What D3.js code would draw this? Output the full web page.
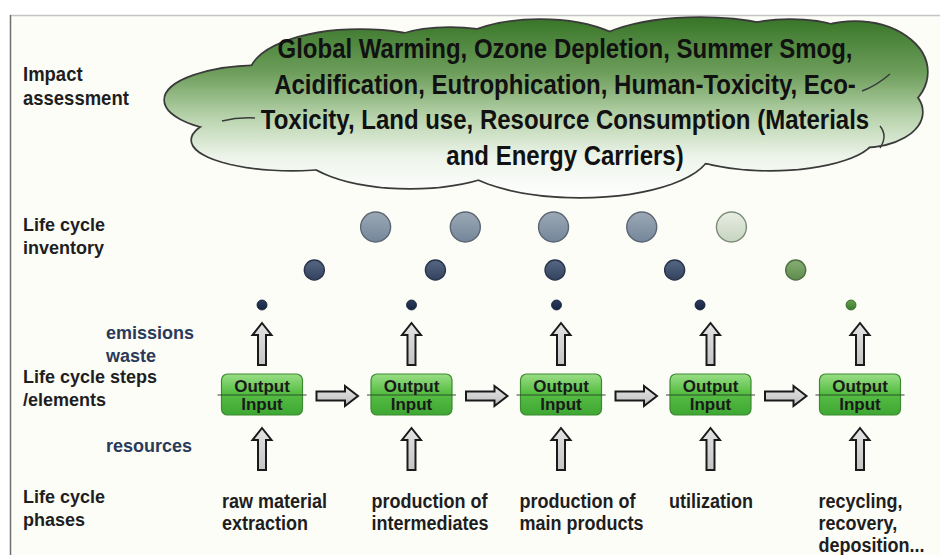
<!DOCTYPE html>
<html>
<head>
<meta charset="utf-8">
<script src="https://cdn.jsdelivr.net/npm/d3@7"></script>
<style>
  html, body { margin: 0; padding: 0; background: #fff; }
  svg { display: block; }
</style>
</head>
<body>
<svg id="chart" width="940" height="555"></svg>
<script>
'use strict';

// ---- data ----
var impactLines = [
  'Global Warming, Ozone Depletion, Summer Smog,',
  'Acidification, Eutrophication, Human-Toxicity, Eco-',
  'Toxicity, Land use, Resource Consumption (Materials',
  'and Energy Carriers)'
];
var steps = [0, 1, 2, 3, 4];
var phaseLabels = [
  ['raw material', 'extraction'],
  ['production of', 'intermediates'],
  ['production of', 'main products'],
  ['utilization'],
  ['recycling,', 'recovery,', 'deposition...']
];
// inventory bubbles, position in step units along the chain
var inventoryLarge = [0.76, 1.36, 1.95, 2.54, 3.14];
var inventoryMedium = [0.35, 1.16, 1.96, 2.76, 3.57];
var inventorySmall = [0.0, 1.0, 1.97, 2.93, 3.94];
var bubbleTone = ['slate', 'slate', 'slate', 'slate', 'green'];

// ---- layout ----
var svg = d3.select('#chart');
var x = d3.scaleLinear().domain([0, 4]).range([262, 860]);
var boxW = 81, boxH = 41, boxTop = 374;
var SANS = '"Liberation Sans", Arial, sans-serif';

var defs = svg.append('defs');

function vGrad(id, stops, userSpace) {
  var g = defs.append('linearGradient').attr('id', id)
    .attr('x1', 0).attr('x2', 0).attr('y1', userSpace ? userSpace[0] : 0)
    .attr('y2', userSpace ? userSpace[1] : 1);
  if (userSpace) { g.attr('gradientUnits', 'userSpaceOnUse'); }
  stops.forEach(function(s) {
    g.append('stop').attr('offset', s[0]).attr('stop-color', s[1]);
  });
}

// squeeze text horizontally, the source uses a narrow face we do not have
function squeeze(sel, k) {
  sel.each(function() {
    var w = this.getComputedTextLength();
    d3.select(this).attr('textLength', w * k).attr('lengthAdjust', 'spacingAndGlyphs');
  });
}

vGrad('cloudFill', [[0, '#3a772a'], [0.3, '#6e9e5c'], [0.55, '#b9d4ad'], [0.77, '#edf4ea'], [1, '#ffffff']], [20, 198]);
vGrad('boxFill', [[0, '#9ade86'], [0.45, '#58bf45'], [1, '#3ea733']]);
vGrad('arrowFill', [[0, '#e4e4e4'], [1, '#c4c4c4']]);
vGrad('arrowFillH', [[0, '#e6e6e6'], [1, '#bdbdbd']]);
vGrad('bLargeslate', [[0, '#9ca9b6'], [1, '#74869a']]);
vGrad('bLargegreen', [[0, '#e8eee4'], [1, '#c6d4c0']]);
vGrad('bMediumslate', [[0, '#566783'], [1, '#33435e']]);
vGrad('bMediumgreen', [[0, '#86ae74'], [1, '#5e8c4c']]);
vGrad('bSmallslate', [[0, '#2c3e5e'], [1, '#142340']]);
vGrad('bSmallgreen', [[0, '#64a24e'], [1, '#3c7a2e']]);

// frame
svg.append('rect').attr('x', 10).attr('y', 15).attr('width', 930).attr('height', 540)
  .attr('fill', '#fdfdf8');
svg.append('line').attr('x1', 10).attr('x2', 940).attr('y1', 15.5).attr('y2', 15.5)
  .attr('stroke', '#c4c4c4').attr('stroke-width', 1.5);
svg.append('line').attr('x1', 10.5).attr('x2', 10.5).attr('y1', 15).attr('y2', 555)
  .attr('stroke', '#6e6e6e').attr('stroke-width', 1.5);

// ---- cloud (union of lobes: stroked pass then filled pass) ----
var lobes = [
  [262, 100, 97, 34], [292, 140, 100, 30], [360, 75, 110, 45],
  [450, 52, 70, 24], [540, 64, 100, 44], [700, 60, 120, 42],
  [790, 45, 70, 25], [855, 72, 72, 50], [862, 112, 60, 35],
  [770, 135, 105, 35], [580, 150, 130, 47], [410, 146, 112, 42],
  [565, 108, 300, 62]
];
var cloud = svg.append('g').attr('class', 'cloud');
cloud.selectAll('ellipse.edge').data(lobes).enter().append('ellipse')
  .attr('class', 'edge')
  .attr('cx', function(d) { return d[0]; }).attr('cy', function(d) { return d[1]; })
  .attr('rx', function(d) { return d[2]; }).attr('ry', function(d) { return d[3]; })
  .attr('fill', 'none').attr('stroke', '#3a3a3a').attr('stroke-width', 3.4);
cloud.selectAll('ellipse.body').data(lobes).enter().append('ellipse')
  .attr('class', 'body')
  .attr('cx', function(d) { return d[0]; }).attr('cy', function(d) { return d[1]; })
  .attr('rx', function(d) { return d[2]; }).attr('ry', function(d) { return d[3]; })
  .attr('fill', 'url(#cloudFill)');
// inner lobe edges showing through
cloud.selectAll('path.seam').data([
  'M222,121 Q238,117 255,118',
  'M862,91 Q876,86 890,74',
  'M880,126 Q888,136 880,148'
]).enter().append('path')
  .attr('class', 'seam').attr('d', function(d) { return d; })
  .attr('fill', 'none').attr('stroke', '#3a3a3a').attr('stroke-width', 1.5);

var cloudText = cloud.selectAll('text').data(impactLines).enter().append('text')
  .attr('x', 565)
  .attr('y', function(d, i) { return 58 + i * 35.5; })
  .attr('text-anchor', 'middle')
  .style('font-family', SANS)
  .style('font-weight', 'bold')
  .style('font-size', '28px')
  .attr('fill', '#111')
  .text(function(d) { return d; });
var kCloud = 575 / cloudText.node().getComputedTextLength();
squeeze(cloudText, kCloud);

// ---- left row labels ----
function label(lines, lx, ly, opts) {
  var t = svg.append('text')
    .attr('x', lx).attr('y', ly)
    .style('font-family', SANS)
    .style('font-weight', 'bold')
    .style('font-size', opts.size || '18px')
    .attr('fill', opts.color || '#1e1e1e');
  lines.forEach(function(l, i) {
    t.append('tspan').attr('x', lx).attr('dy', i ? (opts.lh || 22.5) : 0).text(l);
  });
  if (opts.k) { squeeze(t.selectAll('tspan'), opts.k); }
  return t;
}
label(['Impact', 'assessment'], 23, 81, { size: '21px', lh: 24, k: 0.88 });
label(['Life cycle', 'inventory'], 23, 231, {});
label(['emissions', 'waste'], 106, 339, { color: '#2a3a58' });
label(['Life cycle steps', '/elements'], 23, 383, {});
label(['resources'], 106, 452, { color: '#2a3a58' });
label(['Life cycle', 'phases'], 23, 503, {});

// ---- inventory bubbles ----
var bubbleRows = [
  { key: 'Large', pos: inventoryLarge, cy: 227, r: 15 },
  { key: 'Medium', pos: inventoryMedium, cy: 270, r: 10 },
  { key: 'Small', pos: inventorySmall, cy: 305, r: 5 }
];
var strokeFor = {
  Largeslate: '#5c6672', Largegreen: '#7c8c78',
  Mediumslate: '#28324a', Mediumgreen: '#4c6e40',
  Smallslate: '#0e1a30', Smallgreen: '#2e5e24'
};
bubbleRows.forEach(function(row) {
  svg.append('g').selectAll('circle').data(row.pos).enter().append('circle')
    .attr('cx', function(d) { return x(d); })
    .attr('cy', row.cy)
    .attr('r', row.r)
    .attr('fill', function(d, i) { return 'url(#b' + row.key + bubbleTone[i] + ')'; })
    .attr('stroke', function(d, i) { return strokeFor[row.key + bubbleTone[i]]; })
    .attr('stroke-width', row.r > 6 ? 1.4 : 0.8);
});

// ---- block arrows ----
function upArrow(cx, top, bottom) {
  var sw = 4, hw = 9.5, hh = 12;
  return 'M' + cx + ',' + top +
    'L' + (cx + hw) + ',' + (top + hh) + 'L' + (cx + sw) + ',' + (top + hh) +
    'L' + (cx + sw) + ',' + bottom + 'L' + (cx - sw) + ',' + bottom +
    'L' + (cx - sw) + ',' + (top + hh) + 'L' + (cx - hw) + ',' + (top + hh) + 'Z';
}
function rightArrow(x0, x1, cy) {
  var sw = 4.5, hw = 10, hl = 13;
  return 'M' + x1 + ',' + cy +
    'L' + (x1 - hl) + ',' + (cy - hw) + 'L' + (x1 - hl) + ',' + (cy - sw) +
    'L' + x0 + ',' + (cy - sw) + 'L' + x0 + ',' + (cy + sw) +
    'L' + (x1 - hl) + ',' + (cy + sw) + 'L' + (x1 - hl) + ',' + (cy + hw) + 'Z';
}
var arrows = svg.append('g').attr('class', 'arrows')
  .attr('stroke', '#1a1a1a').attr('stroke-width', 2).attr('stroke-linejoin', 'miter');
arrows.selectAll('path.up-out').data(steps).enter().append('path')
  .attr('d', function(d) { return upArrow(x(d), 323, 365); })
  .attr('fill', 'url(#arrowFill)');
arrows.selectAll('path.up-in').data(steps).enter().append('path')
  .attr('d', function(d) { return upArrow(x(d), 428, 470); })
  .attr('fill', 'url(#arrowFill)');
arrows.selectAll('path.flow').data(steps.slice(0, -1)).enter().append('path')
  .attr('d', function(d) {
    var gap = x(d + 1) - x(d);
    return rightArrow(x(d) + boxW / 2 + 14, x(d) + gap - boxW / 2 - 13, 396);
  })
  .attr('fill', 'url(#arrowFillH)');

// ---- output / input boxes ----
var boxes = svg.append('g').selectAll('g').data(steps).enter().append('g')
  .attr('transform', function(d) { return 'translate(' + x(d) + ',' + boxTop + ')'; });
boxes.append('rect')
  .attr('x', -boxW / 2).attr('y', 0).attr('width', boxW).attr('height', boxH)
  .attr('rx', 6).attr('ry', 6)
  .attr('fill', 'url(#boxFill)').attr('stroke', '#3b8a30').attr('stroke-width', 1.2);
boxes.append('line')
  .attr('x1', -boxW / 2 - 4).attr('x2', boxW / 2 + 4)
  .attr('y1', 21).attr('y2', 21)
  .attr('stroke', '#2f4f2a').attr('stroke-width', 1);
boxes.selectAll('text').data(['Output', 'Input']).enter().append('text')
  .attr('x', 0)
  .attr('y', function(d, i) { return i ? 36 : 17.5; })
  .attr('text-anchor', 'middle')
  .style('font-family', SANS)
  .style('font-weight', 'bold')
  .style('font-size', '17px')
  .attr('fill', '#1a1a1a')
  .text(function(d) { return d; });

// ---- life cycle phase labels ----
var phases = svg.append('g').selectAll('text').data(phaseLabels).enter().append('text')
  .attr('y', 508)
  .style('font-family', SANS)
  .style('font-weight', 'bold')
  .style('font-size', '20px')
  .attr('fill', '#1e1e1e')
  .each(function(d, i) {
    var t = d3.select(this);
    d.forEach(function(l, j) {
      t.append('tspan').attr('x', x(i) - 40 - (i > 1 ? 1.5 : 0)).attr('dy', j ? 22 : 0).text(l);
    });
  });
squeeze(phases.selectAll('tspan'), 0.9);
</script>
</body>
</html>
